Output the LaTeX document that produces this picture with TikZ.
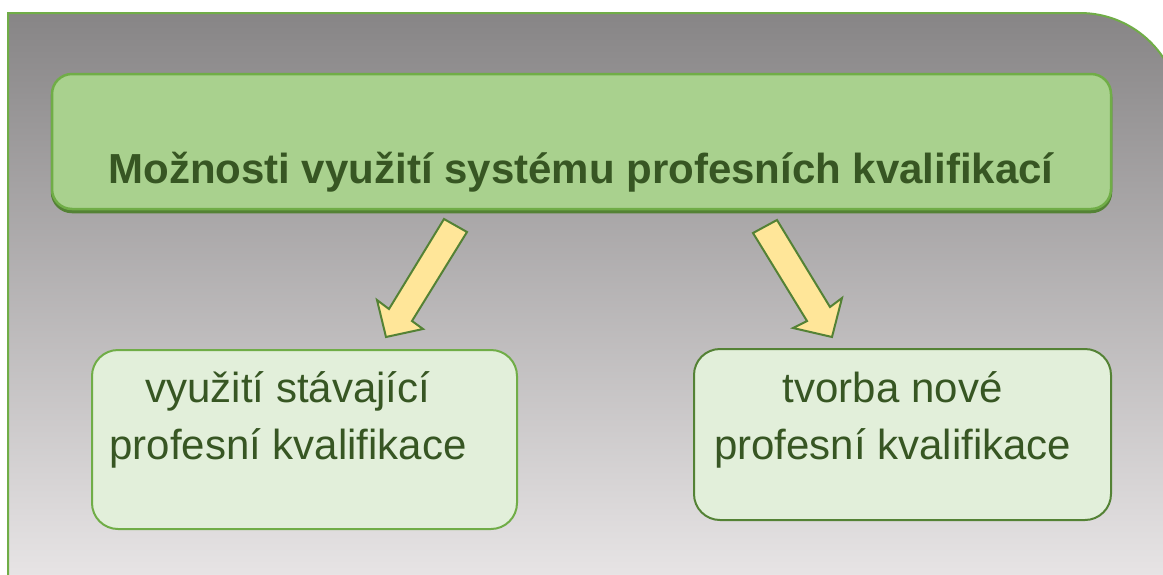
\documentclass[tikz,border=0pt]{standalone}
\usepackage{fontspec}
\setmainfont{Liberation Sans}
\definecolor{bgtop}{RGB}{135,133,134}
\definecolor{bgbot}{RGB}{235,232,233}
\definecolor{gborder}{HTML}{70AD47}
\definecolor{gdark}{HTML}{548235}
\definecolor{gfill}{HTML}{A9D18E}
\definecolor{lfill}{HTML}{E2EFDA}
\definecolor{gtext}{HTML}{375623}
\definecolor{afill}{HTML}{FFE699}
\tikzset{
  titlebox/.style={draw=gborder, fill=gfill, line width=2.5pt, rounded corners=20pt, minimum width=1059pt, minimum height=135pt, inner sep=0pt},
  subbox/.style={fill=lfill, line width=2pt, rounded corners=26pt, inner sep=0pt},
  ttxt/.style={text=gtext, font=\fontsize{42}{50}\selectfont\bfseries, inner sep=0pt, anchor=base},
  btxt/.style={text=gtext, font=\fontsize{42}{50}\selectfont, inner sep=0pt, anchor=base},
  blockarrow/.style={draw=gdark, fill=afill, line width=2pt, line join=miter}
}
\begin{document}
\begin{tikzpicture}[x=1pt, y=-1pt]
\useasboundingbox (0,0) rectangle (1163,574);
\fill[white] (0,0) rectangle (1163,574);
% panel
\shade[top color=bgtop, bottom color=bgbot] (8,600) -- (8,13) -- (1080,13) .. controls (1135.2,13) and (1180,57.8) .. (1180,113) -- (1180,600) -- cycle;
\draw[gborder, line width=2pt] (8,600) -- (8,13) -- (1080,13) .. controls (1135.2,13) and (1180,57.8) .. (1180,113) -- (1180,600);
% title box with shadow
\node[titlebox, draw=gdark, fill=gdark] (tshadow) at (581.5,144.5) {};
\node[titlebox] (title) at (581.5,141.5) {};
\node[ttxt] (ttext) at (581,183) {Možnosti využití systému profesních kvalifikací};
% sub boxes
\node[subbox, draw=gborder, minimum width=425pt, minimum height=179pt] (lbox) at (304.5,439.5) {};
\node[subbox, draw=gdark, minimum width=417pt, minimum height=171pt] (rbox) at (902.5,434.5) {};
\node[btxt] (l1) at (288,402.7) {využití stávající};
\node[btxt] (l2) at (288,459.5) {profesní kvalifikace};
\node[btxt] (r1) at (892.7,402.7) {tvorba nové};
\node[btxt] (r2) at (892.7,459.3) {profesní kvalifikace};
% block arrows
\draw[blockarrow] (444,219) -- (467,232) -- (412,321) -- (423,329) -- (386,337) -- (377,300) -- (389,309) -- cycle;
\draw[blockarrow] (753,233) -- (777,220) -- (830,307) -- (842,298) -- (832,337) -- (793,328) -- (807,321) -- cycle;
\end{tikzpicture}
\end{document}
